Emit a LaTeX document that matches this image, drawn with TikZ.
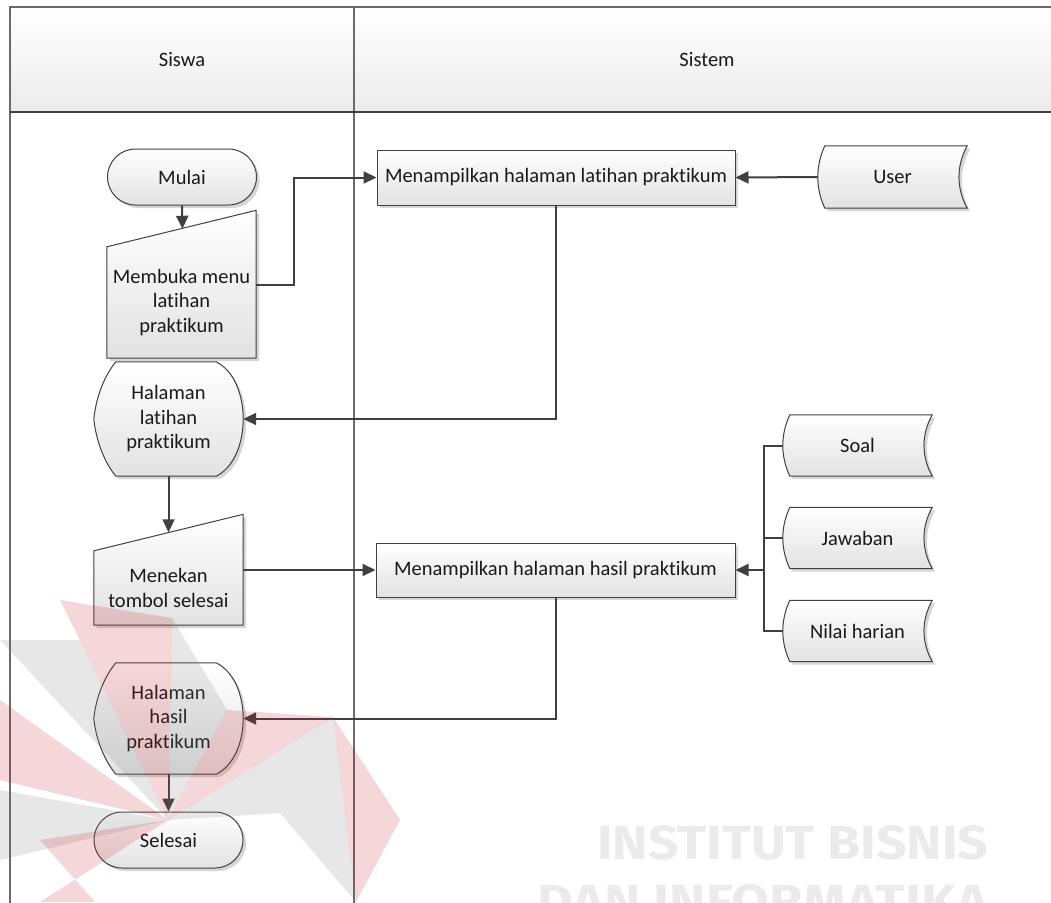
\documentclass[tikz,border=0pt]{standalone}
\usepackage{fontspec}
\setmainfont{Carlito}[Ligatures=NoCommon]
\newfontfamily\wmfont{Fira Sans}
\usetikzlibrary{arrows.meta,shapes.misc,calc,shadows}

\definecolor{linec}{HTML}{404040}
\definecolor{framec}{HTML}{6A6A6A}
\definecolor{shadec}{HTML}{E2E2E2}
\definecolor{shadowc}{HTML}{D6D6D6}
\definecolor{hdrc}{HTML}{ECECEC}
\definecolor{wmred}{HTML}{C8202E}
\definecolor{wmgray}{HTML}{7F7F7F}
\definecolor{wmtext}{HTML}{EBEBEB}

\pgfdeclarelayer{frame}
\pgfdeclarelayer{shapes}
\pgfsetlayers{frame,shapes,main}

\tikzset{
  lbl/.style={font=\fontsize{20.5}{24.5}\selectfont, align=center, text=black!90},
  body/.style={draw=none, inner sep=0pt, lbl},
  outline/.style={draw=linec, line width=1pt, top color=white, bottom color=shadec},
  shd/.style={drop shadow={shadow xshift=3pt, shadow yshift=-3pt, fill=shadowc, opacity=1}},
  shadowpath/.style={fill=shadowc, draw=none, transform canvas={xshift=3pt, yshift=-3pt}},
  terminal/.style={rounded rectangle, outline, shd, lbl, minimum width=149pt, minimum height=56pt, inner sep=0pt},
  process/.style={rectangle, outline, shd, lbl, minimum height=55pt, inner sep=0pt},
  flow/.style={draw=linec, line width=2pt, -{Triangle[length=13pt,width=12pt]}},
  link/.style={draw=linec, line width=2pt},
  wmr/.style={fill=wmred, opacity=0.18, draw=none},
  wmg/.style={fill=wmgray, opacity=0.18, draw=none},
}

% manual input: rectangle body with the slanted top rising to the right
\newcommand\manualinput[1]{%
  \path[shadowpath] (#1.south west) -- (#1.north west) -- ($(#1.north east)+(0,-36.5)$) -- (#1.south east) -- cycle;
  \path[outline] (#1.south west) -- (#1.north west) -- ($(#1.north east)+(0,-36.5)$) -- (#1.south east) -- cycle;}

% display: pointed left side, rounded right side
\newcommand\displayshape[1]{%
  \path[shadowpath] ($(#1.north west)+(22,0)$) -- ($(#1.north east)+(-27,0)$)
    .. controls ($(#1.north east)+(9,18)$) and ($(#1.south east)+(9,-18)$) .. ($(#1.south east)+(-27,0)$)
    -- ($(#1.south west)+(22,0)$)
    .. controls ($(#1.south west)+(9,-16)$) and ($(#1.west)+(2,19)$) .. (#1.west)
    .. controls ($(#1.west)+(2,-19)$) and ($(#1.north west)+(9,16)$) .. cycle;
  \path[outline] ($(#1.north west)+(22,0)$) -- ($(#1.north east)+(-27,0)$)
    .. controls ($(#1.north east)+(9,18)$) and ($(#1.south east)+(9,-18)$) .. ($(#1.south east)+(-27,0)$)
    -- ($(#1.south west)+(22,0)$)
    .. controls ($(#1.south west)+(9,-16)$) and ($(#1.west)+(2,19)$) .. (#1.west)
    .. controls ($(#1.west)+(2,-19)$) and ($(#1.north west)+(9,16)$) .. cycle;}

% stored data: convex left side, concave right side
\newcommand\storeddata[1]{%
  \path[shadowpath] ($(#1.north west)+(7,0)$) -- (#1.north east)
    .. controls ($(#1.north east)+(-11,20)$) and ($(#1.south east)+(-11,-20)$) .. (#1.south east)
    -- ($(#1.south west)+(7,0)$)
    .. controls ($(#1.south west)+(-2.33,-20)$) and ($(#1.north west)+(-2.33,20)$) .. cycle;
  \path[outline] ($(#1.north west)+(7,0)$) -- (#1.north east)
    .. controls ($(#1.north east)+(-11,20)$) and ($(#1.south east)+(-11,-20)$) .. (#1.south east)
    -- ($(#1.south west)+(7,0)$)
    .. controls ($(#1.south west)+(-2.33,-20)$) and ($(#1.north west)+(-2.33,20)$) .. cycle;}

\begin{document}
\begin{tikzpicture}[x=1pt, y=-1pt]
\useasboundingbox (0,0) rectangle (1051,902);
\clip (0,0) rectangle (1051,902);

% swimlane frame
\begin{pgfonlayer}{frame}
  \fill[white] (0,0) rectangle (1051,902);
  \path[top color=white, bottom color=hdrc] (10,7) rectangle (1060,112);
  \draw[framec, line width=1.2pt] (1060,7) -- (10,7) -- (10,910);
  \draw[framec, line width=1.2pt] (354,7) -- (354,910);
  \draw[linec, line width=1.5pt] (10,112) -- (1060,112);
\end{pgfonlayer}
\node[lbl] (siswa) at (182,60) {Siswa};
\node[lbl] (sistem) at (707,60) {Sistem};

% Siswa lane
\node[terminal] (mulai) at (182,177) {Mulai};
\node[body, minimum width=149pt, minimum height=111pt] (membuka) at (181.5,302.5) {Membuka menu\\latihan\\praktikum};
\node[body, minimum width=149pt, minimum height=114pt] (hlatihan) at (168.5,419) {Halaman\\latihan\\praktikum};
\node[body, minimum width=149pt, minimum height=74pt] (menekan) at (168.5,588) {Menekan\\tombol selesai};
\node[body, minimum width=149pt, minimum height=111pt] (hhasil) at (168.5,718.5) {Halaman\\hasil\\praktikum};
\node[terminal] (selesai) at (168.5,840) {Selesai};

% Sistem lane
\node[process, minimum width=358pt] (tampil1) at (556,177.5) {Menampilkan halaman latihan praktikum};
\node[process, minimum width=359pt, minimum height=54pt] (tampil2) at (555.5,570) {Menampilkan halaman hasil praktikum};
\node[body, minimum width=149pt, minimum height=62pt] (user) at (892.5,177) {User};
\node[body, minimum width=149pt, minimum height=61pt] (soal) at (857.5,445.5) {Soal};
\node[body, minimum width=149pt, minimum height=61pt] (jawaban) at (857.5,538) {Jawaban};
\node[body, minimum width=149pt, minimum height=61pt] (nilai) at (857.5,631) {Nilai harian};

\begin{pgfonlayer}{shapes}
  \manualinput{membuka}
  \manualinput{menekan}
  \displayshape{hlatihan}
  \displayshape{hhasil}
  \storeddata{user}
  \storeddata{soal}
  \storeddata{jawaban}
  \storeddata{nilai}
\end{pgfonlayer}

% connectors
\draw[flow] (mulai.south) -- ($(membuka.north)+(1,-18)$);
\draw[flow] ($(membuka.east)+(0,-18)$) -- ++(38,0) |- (tampil1.west);
\draw[flow] (user.west) -- (tampil1.east);
\draw[flow] (tampil1.south) |- (hlatihan.east);
\draw[flow] (hlatihan.south) -- ($(menekan.north)+(0,-18.5)$);
\draw[flow] ($(menekan.east)+(0,-18)$) -- (tampil2.west);
\coordinate (bus) at (764,570);
\draw[link] (soal.west) -| (bus);
\draw[link] (nilai.west) -| (bus);
\draw[link] (jawaban.west) -- (jawaban.west -| bus);
\draw[flow] (bus) -- (tampil2.east);
\draw[flow] (tampil2.south) |- (hhasil.east);
\draw[flow] (hhasil.south) -- (selesai.north);

% institution watermark
\node[anchor=north west, inner sep=0pt, text=wmtext] (wm1) at (597,825)
  {\resizebox{391pt}{34pt}{\wmfont\bfseries INSTITUT BISNIS}};
\node[anchor=north west, inner sep=0pt, text=wmtext] (wm2) at (537,884)
  {\resizebox{451pt}{34pt}{\wmfont\bfseries DAN INFORMATIKA}};
\coordinate (c) at (168,820);
\fill[wmg] (c) -- (0,640) -- (80,640) -- cycle;
\fill[wmr] (c) -- (80,640) -- (60,600) -- (172,618) -- cycle;
\fill[wmg] (c) -- (172,618) -- (227,710) -- cycle;
\fill[wmr] (c) -- (227,710) -- (333,717) -- cycle;
\fill[wmg] (c) -- (333,717) -- (280,813) -- cycle;
\fill[wmg] (333,717) -- (280,813) -- (356,902) -- cycle;
\fill[wmr] (333,717) -- (400,820) -- (356,902) -- cycle;
\fill[wmr] (c) -- (0,700) -- (0,780) -- cycle;
\fill[wmg] (c) -- (0,790) -- (0,860) -- cycle;
\fill[wmr] (c) -- (40,840) -- (95,902) -- (40,902) -- cycle;
\end{tikzpicture}
\end{document}
